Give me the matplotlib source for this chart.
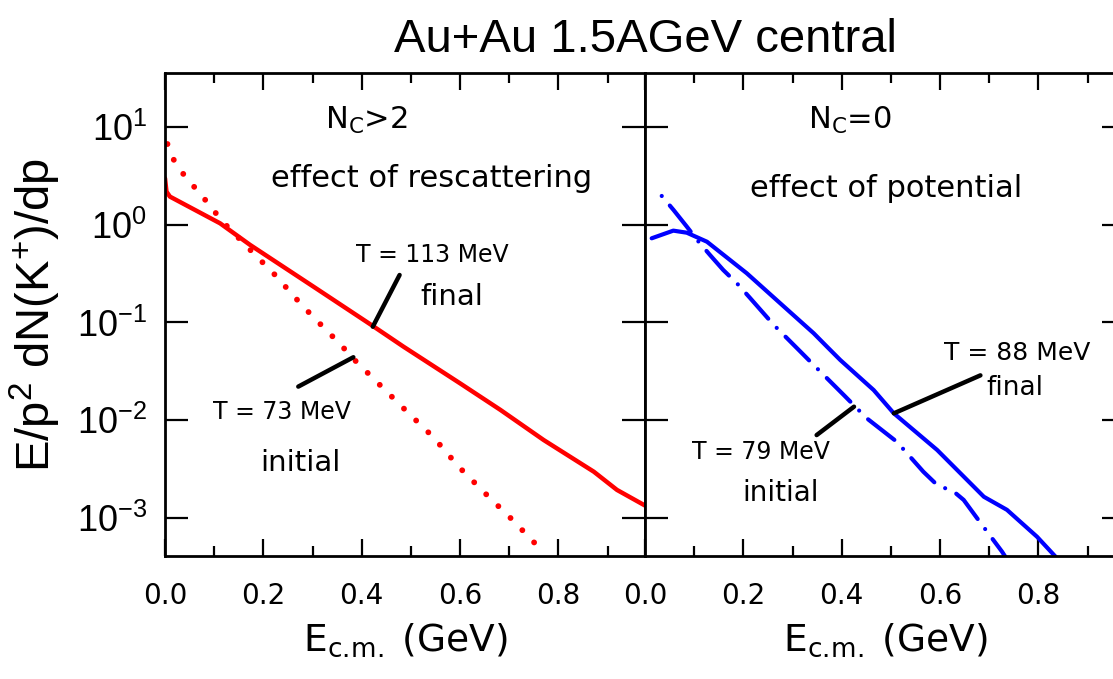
import numpy as np
import matplotlib
matplotlib.use("Agg")
import matplotlib.pyplot as plt
from matplotlib.ticker import FixedLocator, NullLocator, LogFormatterSciNotation

# ---------------- data ----------------
left_final_x = [0.0, 0.003, 0.01, 0.112, 0.173, 0.302, 0.42, 0.485, 0.60, 0.682, 0.77, 0.872, 0.919, 0.976]
left_final_y = [2.97, 2.17, 1.93, 1.03, 0.62, 0.232, 0.094, 0.0566, 0.0239, 0.0128, 0.0063, 0.00299, 0.00195, 0.00135]

left_init_x = [0.005, 0.018, 0.041, 0.068, 0.092, 0.115, 0.170, 0.197, 0.224, 0.275, 0.302, 0.356,
               0.382, 0.437, 0.492, 0.546, 0.597, 0.651, 0.705, 0.760]
left_init_y = [6.65, 4.57, 3.08, 2.17, 1.55, 1.10, 0.573, 0.418, 0.305, 0.157, 0.113, 0.0603,
               0.0431, 0.0230, 0.0123, 0.00671, 0.00337, 0.0018, 0.00098, 0.000506]

right_final_x = [0.0136, 0.0576, 0.085, 0.126, 0.207, 0.275, 0.343, 0.370, 0.397, 0.465, 0.506,
                 0.594, 0.689, 0.736, 0.797, 0.84]
right_final_y = [0.724, 0.867, 0.826, 0.668, 0.318, 0.157, 0.0776, 0.0566, 0.0414, 0.0204, 0.0118,
                 0.00499, 0.00166, 0.00122, 0.000649, 0.00038]

right_init_x = [0.034, 0.058, 0.085, 0.109, 0.132, 0.159, 0.187, 0.214, 0.262, 0.316, 0.343, 0.404,
                0.451, 0.512, 0.566, 0.594, 0.628, 0.648, 0.678, 0.726, 0.74]
right_init_y = [1.96, 1.41, 0.953, 0.668, 0.490, 0.344, 0.251, 0.177, 0.0942, 0.0504, 0.0368, 0.0182,
                0.0105, 0.00605, 0.00299, 0.00219, 0.00187, 0.00154, 0.00096, 0.000456, 0.000355]

xticks = [0.0, 0.2, 0.4, 0.6, 0.8]
xtick_labels = ["0.0", "0.2", "0.4", "0.6", "0.8"]
yticks = [1e-3, 1e-2, 1e-1, 1e0, 1e1]

title = "Au+Au 1.5AGeV central"
ylabel = "E/p$^{2}$ dN(K$^{+}$)/dp"
xlabel = "E$_\\mathregular{c.\\!m.}$ (GeV)"

# pointer lines for the temperature labels
left_ptr_final = ([0.477, 0.4225], [10**-0.515, 10**-1.043])
left_ptr_init = ([0.383, 0.271], [10**-1.355, 10**-1.655])
right_ptr_final = ([0.682, 0.506], [10**-1.54, 10**-1.928])
right_ptr_init = ([0.425, 0.349], [10**-1.86, 10**-2.15])

# ---------------- figure ----------------
plt.rcParams['font.family'] = ['DejaVu Sans']
plt.rcParams['mathtext.fontset'] = 'custom'
plt.rcParams['mathtext.rm'] = 'Liberation Sans'
plt.rcParams['mathtext.it'] = 'Liberation Sans:italic'
plt.rcParams['mathtext.bf'] = 'Liberation Sans:bold'
plt.rcParams['mathtext.default'] = 'regular'

W, H = 1113, 679
fig = plt.figure(figsize=(W / 100, H / 100), dpi=100)

ax_bottom = (H - 556) / H
ax_height = (556 - 73.3) / H
ax_w = 480 / W
axL = fig.add_axes([165 / W, ax_bottom, ax_w, ax_height])
axR = fig.add_axes([645 / W, ax_bottom, ax_w, ax_height])

xlim = (0.0, 0.976)
ylim = (10**-3.385, 10**1.545)

for ax in (axL, axR):
    ax.set_yscale('log')
    ax.set_xlim(*xlim)
    ax.set_ylim(*ylim)
    ax.set_xticks(xticks)
    ax.set_xticklabels(xtick_labels)
    ax.xaxis.set_minor_locator(FixedLocator([0.1, 0.3, 0.5, 0.7, 0.9]))
    ax.yaxis.set_major_locator(FixedLocator(yticks))
    ax.yaxis.set_minor_locator(NullLocator())
    ax.tick_params(axis='x', which='major', direction='in', length=12, width=1.6,
                   top=True, bottom=True, labelsize=20, pad=19)
    ax.tick_params(axis='x', which='minor', direction='in', length=7, width=1.6,
                   top=True, bottom=True)
    ax.tick_params(axis='y', which='major', direction='in', length=16.5, width=1.6,
                   left=True, right=True)
    for s in ax.spines.values():
        s.set_linewidth(2)
    ax.set_xlabel(xlabel, fontsize=27, labelpad=8)

axL.yaxis.set_major_formatter(LogFormatterSciNotation())
axL.tick_params(axis='y', labelsize=26, pad=13, labelfontfamily='Liberation Sans')
axR.tick_params(axis='y', labelleft=False)
axL.set_ylabel(ylabel, fontsize=34, family='Liberation Sans', labelpad=10)

red = '#ff0000'
blue = '#0000ff'

# left panel
axL.plot(left_final_x, left_final_y, color=red, lw=3.2, solid_capstyle='round', solid_joinstyle='round')
axL.plot(left_init_x, left_init_y, color=red, lw=4.2, linestyle=(0, (0.01, 2.9)),
         dash_capstyle='round')
axL.plot(*left_ptr_final, color='black', lw=3.2, solid_capstyle='round')
axL.plot(*left_ptr_init, color='black', lw=3.2, solid_capstyle='round')

axL.text(0.41, 10**1.068, "N$_\\mathregular{C}$>2", fontsize=22, ha='center', va='center')
axL.text(0.543, 10**0.473, "effect of rescattering", fontsize=22, ha='center', va='center')
axL.text(0.543, 10**-0.31, "T = 113 MeV", fontsize=17, ha='center', va='center')
axL.text(0.583, 10**-0.736, "final", fontsize=21, ha='center', va='center')
axL.text(0.237, 10**-1.91, "T = 73 MeV", fontsize=17, ha='center', va='center')
axL.text(0.275, 10**-2.44, "initial", fontsize=21, ha='center', va='center')

# right panel
axR.plot(right_final_x, right_final_y, color=blue, lw=3.0, solid_capstyle='round', solid_joinstyle='round')
axR.plot(right_init_x, right_init_y, color=blue, lw=3.0, linestyle=(0, (0.01, 3.0, 8.0, 3.0)),
         dash_capstyle='round')
axR.plot(*right_ptr_final, color='black', lw=3.2, solid_capstyle='round')
axR.plot(*right_ptr_init, color='black', lw=3.2, solid_capstyle='round')

axR.text(0.417, 10**1.068, "N$_\\mathregular{C}$=0", fontsize=22, ha='center', va='center')
axR.text(0.491, 10**0.371, "effect of potential", fontsize=22, ha='center', va='center')
axR.text(0.756, 10**-1.315, "T = 88 MeV", fontsize=18, ha='center', va='center')
axR.text(0.753, 10**-1.672, "final", fontsize=19, ha='center', va='center')
axR.text(0.236, 10**-2.32, "T = 79 MeV", fontsize=17, ha='center', va='center')
axR.text(0.275, 10**-2.745, "initial", fontsize=20, ha='center', va='center')

fig.text(645 / W, 1 - 52 / H, title, fontsize=34, family='Liberation Sans',
         ha='center', va='baseline')

fig.savefig("out.png", dpi=100)
